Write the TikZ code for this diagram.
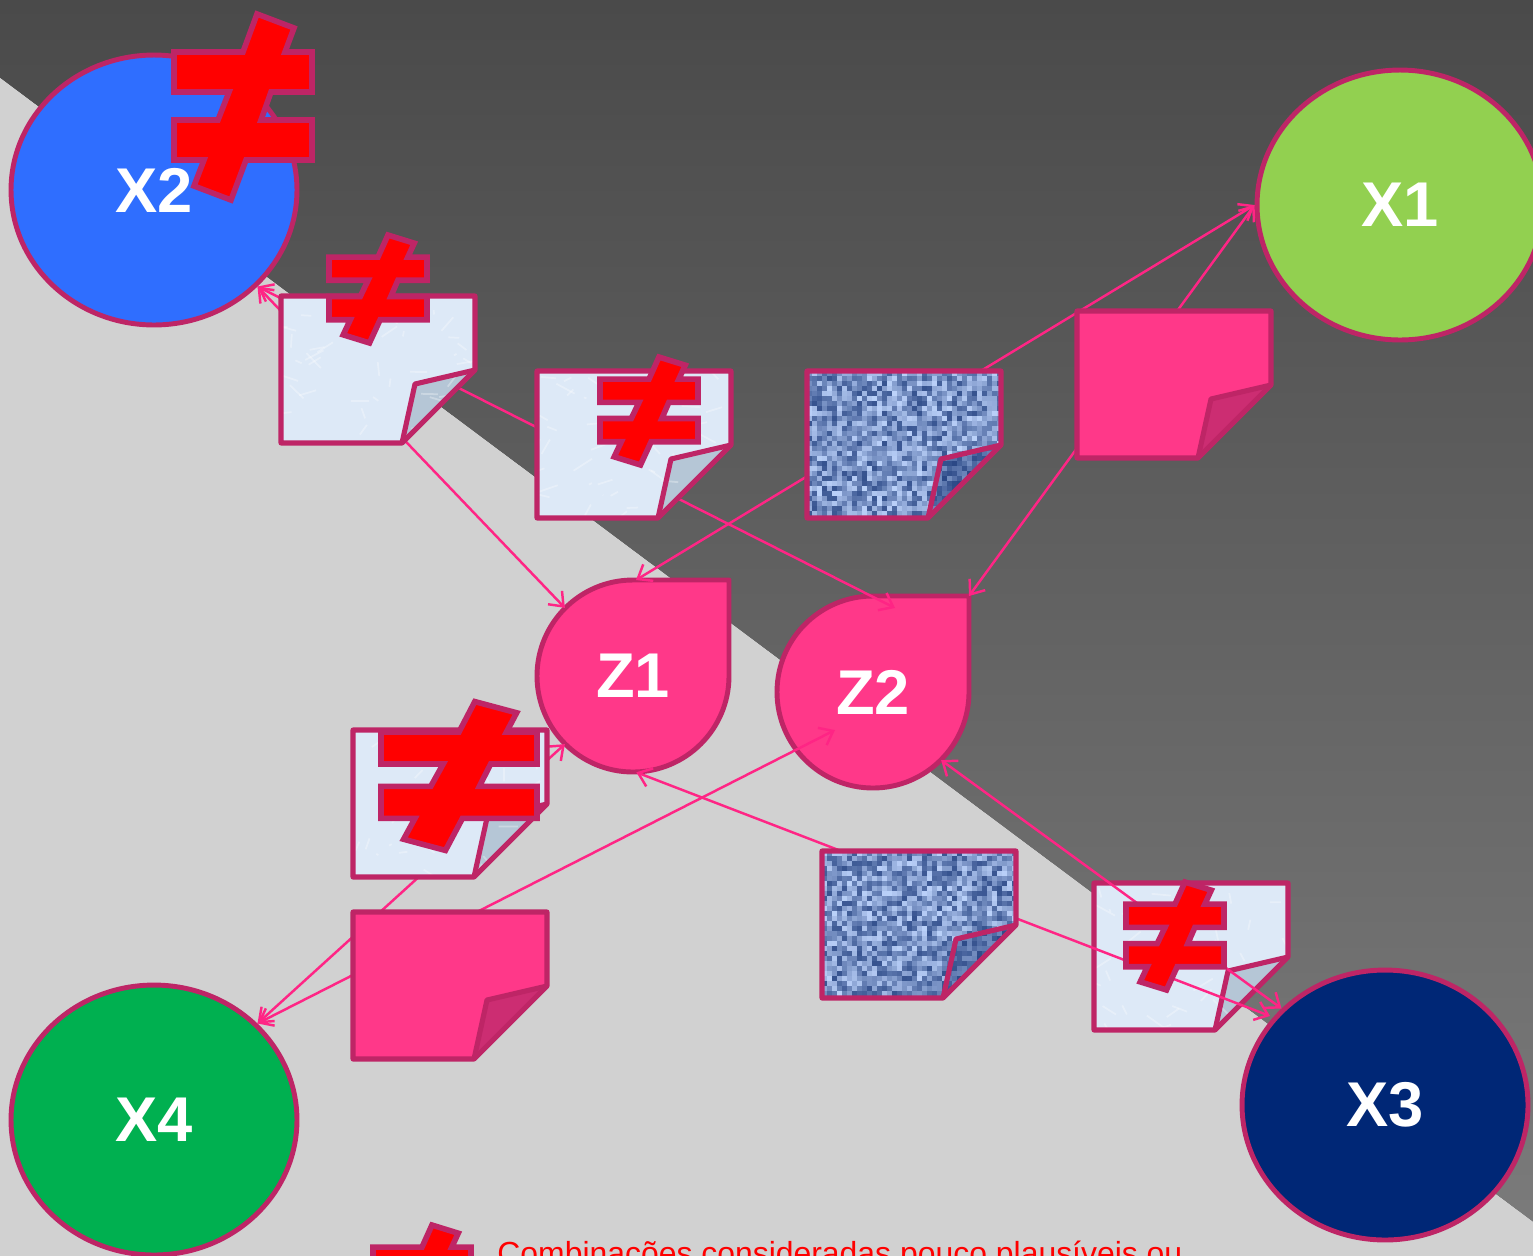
\documentclass[tikz,border=0pt]{standalone}
\usepackage{fontspec}
\setmainfont{Liberation Sans}
\usetikzlibrary{shapes.geometric,arrows.meta,calc}
\definecolor{edgepink}{HTML}{BE2566}
\definecolor{linkpink}{HTML}{FF2585}
\definecolor{notepink}{HTML}{FF3889}
\definecolor{foldpink}{HTML}{CC2D72}
\definecolor{notelight}{HTML}{DDE9F7}
\definecolor{foldlight}{HTML}{B5C6D6}
\definecolor{denimbase}{HTML}{6A8CCA}
\definecolor{denimdark}{HTML}{1E3C7C}
\definecolor{denimpale}{HTML}{BCD2FA}
\tikzset{
    factor/.style={ellipse, draw=edgepink, line width=2.8pt, minimum width=5.72cm, minimum height=5.4cm,
        inner sep=0pt, text=white, font=\fontsize{36}{38}\selectfont\bfseries},
    result/.style={circle, minimum size=3.84cm, inner sep=0pt, text=white, font=\fontsize{36}{38}\selectfont\bfseries},
    drop/.style={draw=edgepink, line width=2.8pt, fill=notepink, line join=round},
    link/.style={draw=linkpink, line width=1.4pt, >={Straight Barb[length=7pt,width=11pt]}},
    notebox/.style={rectangle, minimum width=3.88cm, minimum height=2.94cm, inner sep=0pt},
    noteline/.style={draw=edgepink, line width=2.9pt, line join=round},
    neqsign/.pic={
        \draw[fill=red, draw=edgepink, line width=3.2pt, line join=miter]
            (14,-93) -- (51,-79) -- (42,-55) -- (69,-55) -- (69,-15) -- (28,-15) -- (18,13) -- (69,13)
            -- (69,53) -- (3,53) -- (-12,93) -- (-49,79) -- (-39,53) -- (-69,53) -- (-69,13) -- (-25,13)
            -- (-14,-15) -- (-69,-15) -- (-69,-55) -- (0,-55) -- cycle;
    }
}
\newcommand{\notebody}{(0,0) -- (194,0) -- (194,74) -- (134,88) -- (121,147) -- (0,147) -- cycle}
\newcommand{\notefold}{(194,74) -- (134,88) -- (121,147) -- cycle}
% Marble and denim surfaces of the sheets
\newcommand{\lighttexture}{%
    \foreach \k in {1,...,45} {
        \pgfmathsetmacro{\ax}{rnd*194}
        \pgfmathsetmacro{\ay}{rnd*147}
        \pgfmathsetmacro{\bx}{\ax+rnd*40-20}
        \pgfmathsetmacro{\by}{\ay+rnd*30-15}
        \draw[white, opacity=0.3, line width=1pt] (\ax,\ay) -- (\bx,\by);
    }}
\newcommand{\denimtexture}{%
    \foreach \i in {0,5,...,190} {
        \foreach \j in {0,5,...,145} {
            \pgfmathtruncatemacro{\mix}{15+rnd*85}
            \fill[denimpale!\mix!denimdark] (\i,\j) rectangle ++(5,5);
        }
    }
    \fill[denimdark, opacity=0.45] \notefold;}
% name, left, top, face colour, back colour, texture
\newcommand{\foldnote}[6]{%
    \begin{scope}[shift={(#2,#3)}]
        \node[notebox] (#1) at (97,73.5) {};
        \fill[#4] \notebody;
        \fill[#5] \notefold;
        \begin{scope}
            \clip (0,0) -- (194,0) -- (194,74) -- (121,147) -- (0,147) -- cycle;
            #6
        \end{scope}
        \draw[noteline] (0,0) -- (194,0) -- (194,74) -- (121,147) -- (0,147) -- cycle;
        \draw[noteline] (194,74) -- (134,88) -- (121,147);
    \end{scope}}

\begin{document}
\begin{tikzpicture}[x=0.02cm, y=-0.02cm]
    \pgfmathsetseed{42}
    \useasboundingbox (0,0) rectangle (1533,1255);
    \clip (0,0) rectangle (1533,1255);

    % Background
    \shade[top color=black!71, bottom color=black!52] (0,0) -- (1533,0) -- (1533,1222) -- (0,78) -- cycle;
    \fill[black!18] (0,78) -- (1533,1222) -- (1533,1260) -- (0,1260) -- cycle;

    % Outer factors
    \node[factor, fill={rgb,255:red,47;green,110;blue,255}] (X2) at (154,190) {\raisebox{-1.5pt}{X2}};
    \node[factor, fill={rgb,255:red,146;green,208;blue,80}] (X1) at (1400,205) {\raisebox{-1.5pt}{X1}};
    \node[factor, fill={rgb,255:red,0;green,176;blue,80}] (X4) at (154,1120) {\raisebox{-1.5pt}{X4}};
    \node[factor, fill={rgb,255:red,0;green,39;blue,118}] (X3) at (1385,1105) {\raisebox{-1.5pt}{X3}};

    % Inner results
    \draw[drop] (633,580) -- (729,580) -- (729,676) arc[start angle=0, end angle=270, radius=96];
    \draw[drop] (873,596) -- (969,596) -- (969,692) arc[start angle=0, end angle=270, radius=96];
    \node[result] (Z1) at (633,676) {\raisebox{-1.5pt}{Z1}};
    \node[result] (Z2) at (873,692) {\raisebox{-1.5pt}{Z2}};

    % Free ends of the links
    \coordinate (Z1c) at (636,580);
    \coordinate (Z2a) at (895,608);
    \coordinate (Z2b) at (969,596);
    \coordinate (Z2c) at (835,730);
    \coordinate (X3a) at (1270,1016);

    % Sheet under the links
    \foldnote{N8}{1094}{883}{notelight}{foldlight}{\lighttexture}

    % Links
    \draw[link, <->] (X2.-43) -- (Z2a);
    \draw[link, <->] (X2.-43) -- (Z1.135);
    \draw[link, <->] (X1.180) -- (Z1c);
    \draw[link, <->] (X1.180) -- (Z2b);
    \draw[link, <->] (X4.43) -- (Z1.225);
    \draw[link, <->] (X4.43) -- (Z2c);
    \draw[link, <->] (Z1.272) -- (X3a);
    \draw[link, <->] (Z2.-45) -- (X3.137);

    % Sheets over the links
    \foldnote{N1}{281}{296}{notelight}{foldlight}{\lighttexture}
    \foldnote{N2}{537}{371}{notelight}{foldlight}{\lighttexture}
    \foldnote{N3}{807}{371}{denimbase}{denimbase!70!black}{\denimtexture}
    \foldnote{N4}{1077}{311}{notepink}{foldpink}{}
    \foldnote{N5}{353}{730}{notelight}{foldlight}{\lighttexture}
    \foldnote{N6}{353}{912}{notepink}{foldpink}{}
    \foldnote{N7}{822}{851}{denimbase}{denimbase!70!black}{\denimtexture}

    % Not-equal marks
    \pic at (243,107) {neqsign};
    \pic[xscale=0.71, yscale=0.58] at (378,289) {neqsign};
    \pic[xscale=0.71, yscale=0.58] at (649,411) {neqsign};
    \pic[xscale=1.13, yscale=0.80] at (459,776) {neqsign};
    \pic[xscale=0.71, yscale=0.58] at (1175,936) {neqsign};
    \pic[xscale=0.71, yscale=0.58] at (422,1279) {neqsign};

    % Legend
    \node[anchor=base west, inner sep=0pt, text=red, font=\fontsize{18.17}{20}\selectfont] (legend) at (497,1264)
        {Combinações consideradas pouco plausíveis ou};
\end{tikzpicture}
\end{document}
